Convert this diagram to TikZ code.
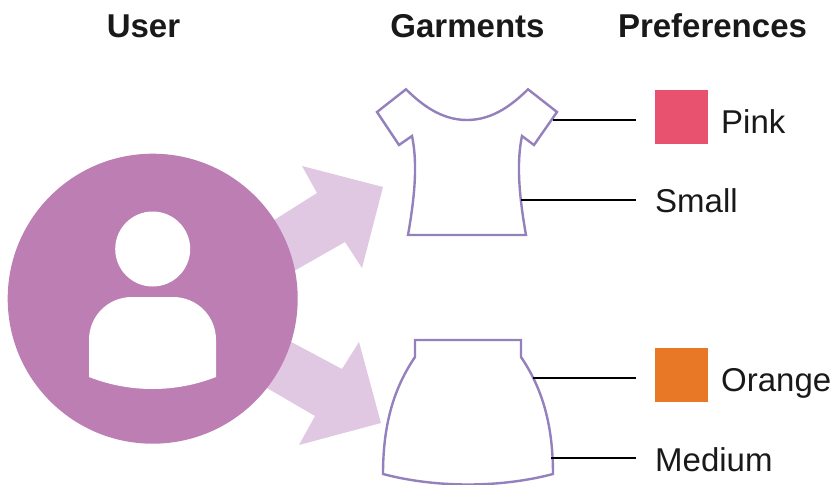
\documentclass[tikz,border=0pt]{standalone}
\usepackage{fontspec}
\setmainfont{Liberation Sans}
\definecolor{circ}{HTML}{BC7EB3}
\definecolor{arr}{HTML}{E0C8E2}
\definecolor{garm}{HTML}{9480BC}
\definecolor{swpink}{HTML}{E9526F}
\definecolor{sworange}{HTML}{E97826}
\begin{document}
\begin{tikzpicture}[x=1pt,y=-1pt,
  lab/.style={anchor=base west,inner sep=0pt,font=\fontsize{33}{36}\selectfont,text=black!90},
  head/.style={anchor=base,inner sep=0pt,font=\fontsize{33}{36}\selectfont\bfseries,text=black!90},
  garment/.style={draw=garm,line width=2.4pt,fill=white,line join=miter},
  link/.style={draw=black,line width=2.4pt},
  swatch/.style={minimum width=53pt,minimum height=54pt,inner sep=0pt,draw=none}]
\useasboundingbox (0,0) rectangle (839,485);
% headings
\node[head] (hu) at (143.5,37) {User};
\node[head] (hg) at (467.5,37) {Garments};
\node[head] (hp) at (712.5,37) {Preferences};
% arrows
\fill[arr] (260,229) -- (317,193) -- (302,166) -- (383,187) -- (362,268) -- (345,242) -- (280,279) -- cycle;
\fill[arr] (280,336) -- (342,369) -- (359,342) -- (381,423) -- (299,445) -- (315,416) -- (255,381) -- cycle;
% user
\node[circle,fill=circ,minimum size=290pt,inner sep=0pt] (user) at (152.7,298.7) {};
\node[circle,fill=white,minimum size=75pt,inner sep=0pt] (uhead) at (152.7,249) {};
\fill[white] (89,377) -- (89,340) .. controls (89,316) and (108,297) .. (132,297) -- (173,297)
  .. controls (197,297) and (216,316) .. (216,340) -- (216,377)
  .. controls (175,393) and (130,393) .. cycle;
% shirt
\draw[garment] (406,89.3) .. controls (420,103) and (440,120) .. (467,120)
  .. controls (494,120) and (514,103) .. (528,89.3)
  -- (557,112) -- (534,145) -- (522,136)
  .. controls (517,160) and (518,190) .. (526,235)
  -- (408,235)
  .. controls (416,190) and (417,160) .. (412,136)
  -- (399,145) -- (377,112) -- cycle;
% skirt
\draw[garment] (415,340) -- (521,340) -- (521,357)
  .. controls (540,385) and (553,420) .. (553,474)
  .. controls (500,488) and (436,488) .. (383,474)
  .. controls (383,420) and (396,385) .. (415,357) -- cycle;
% swatches and labels
\node[swatch,fill=swpink] (pink) at (681.5,117) {};
\node[swatch,fill=sworange] (orange) at (681.5,375) {};
\node[lab] (tpink) at (721,133) {Pink};
\node[lab] (tsmall) at (655,212) {Small};
\node[lab] (torange) at (721,391) {Orange};
\node[lab] (tmedium) at (655,471) {Medium};
% connectors
\coordinate (a1) at (553,120); \coordinate (b1) at (636,120);
\coordinate (a2) at (521,200); \coordinate (b2) at (636,200);
\coordinate (a3) at (533,378); \coordinate (b3) at (636,378);
\coordinate (a4) at (551,458); \coordinate (b4) at (636,458);
\draw[link] (a1) -- (b1);
\draw[link] (a2) -- (b2);
\draw[link] (a3) -- (b3);
\draw[link] (a4) -- (b4);
\end{tikzpicture}
\end{document}
